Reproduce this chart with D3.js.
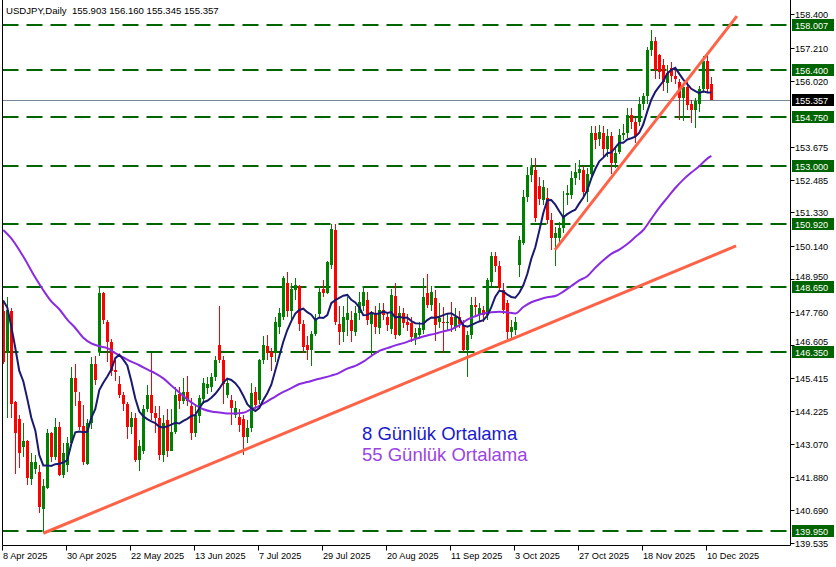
<!DOCTYPE html>
<html><head><meta charset="utf-8">
<script src="https://cdn.jsdelivr.net/npm/d3@7"></script>
<style>body{margin:0;background:#fff}svg{display:block}</style>
</head><body><svg id="c" width="836" height="567"></svg>
<script>
const symbolTitle = "USDJPY,Daily";
const dateLabels = ["8 Apr 2025","30 Apr 2025","22 May 2025","13 Jun 2025","7 Jul 2025","29 Jul 2025","20 Aug 2025","11 Sep 2025","3 Oct 2025","27 Oct 2025","18 Nov 2025","10 Dec 2025"];
const dateTickIndex = [0,16,32,48,64,80,96,112,128,144,160,176];
const priceTicks = [158.400,157.210,156.020,153.675,152.485,151.330,150.140,148.950,147.760,146.605,145.415,144.225,143.070,141.880,140.690,139.535];
const levels = [158.007,156.400,154.750,153.000,150.920,148.650,146.350,139.950];
const lastPrice = 155.357;

const open = [147.80,146.30,147.80,144.55,143.95,142.95,143.15,141.80,142.15,142.05,140.75,141.50,143.45,142.60,143.65,141.95,142.30,143.10,145.40,144.60,143.70,142.35,143.80,145.90,146.35,148.45,147.40,146.70,145.70,145.20,144.80,144.50,143.65,144.00,142.50,142.80,144.30,144.80,144.15,144.00,142.65,143.90,142.80,143.50,144.85,144.60,144.90,144.40,143.45,144.05,144.65,145.05,145.10,145.45,146.60,146.06,144.80,144.63,144.10,144.03,143.95,143.32,143.62,144.93,144.63,146.06,146.55,146.35,146.30,147.25,147.60,148.80,147.80,148.56,148.70,147.35,146.60,146.40,147.00,147.70,148.60,148.45,149.45,150.70,147.35,147.07,147.49,147.50,147.07,147.72,148.00,148.20,147.35,147.75,147.20,147.85,147.60,147.15,148.35,146.95,147.72,147.43,147.37,146.83,146.95,147.13,148.44,148.02,148.26,147.40,147.43,147.37,147.60,147.25,147.60,147.31,146.41,146.95,148.02,147.66,147.84,147.66,148.85,149.77,149.41,148.56,148.08,147.04,147.13,149.45,150.22,151.89,152.66,152.84,152.27,151.77,151.83,151.06,150.40,150.40,150.76,151.95,151.95,152.54,152.75,152.84,152.07,152.70,154.15,153.96,154.15,153.60,154.05,153.10,153.50,154.10,154.15,154.80,154.55,154.55,155.20,155.50,157.13,157.45,156.95,156.60,155.95,156.50,156.20,156.00,155.40,155.80,155.20,155.00,155.20,155.75,156.75,155.903];
const high = [148.20,148.30,147.90,144.60,144.10,143.80,143.20,142.75,142.65,142.30,141.80,143.60,143.50,144.00,143.85,143.10,143.30,145.80,145.90,144.90,144.45,143.95,146.15,146.20,148.65,148.50,147.50,146.80,146.05,145.50,144.90,144.55,144.20,144.15,143.20,144.45,145.15,146.30,144.40,144.40,144.10,144.30,144.30,145.10,145.10,145.40,145.50,144.70,144.50,144.80,145.40,145.45,145.60,146.20,148.00,146.20,145.40,144.80,144.60,144.30,144.10,143.90,145.22,145.10,146.10,146.90,146.95,146.50,147.60,147.90,149.05,149.20,148.80,149.00,148.75,147.50,146.90,147.10,147.70,148.70,148.90,149.60,150.90,150.90,148.00,148.00,148.30,147.80,148.00,148.50,148.70,148.50,147.80,148.00,148.10,148.10,147.75,148.60,148.80,148.00,147.90,147.70,147.60,147.20,147.40,148.97,149.13,148.70,148.56,148.10,147.96,147.70,148.14,147.90,147.80,147.50,147.10,148.32,148.30,148.10,148.00,149.00,149.93,149.93,149.60,148.80,148.20,147.50,147.60,150.50,152.13,152.96,153.26,153.26,152.60,152.50,152.20,151.30,150.80,151.00,152.10,152.30,152.80,153.08,153.20,153.00,152.90,154.40,154.40,154.45,154.40,154.30,154.20,153.70,154.30,154.50,155.05,155.05,154.70,155.45,155.60,157.25,157.84,157.60,157.00,156.80,156.60,156.70,156.40,156.10,155.90,156.00,155.35,155.40,155.85,156.90,156.95,156.160];
const low = [145.90,144.00,144.00,142.00,142.20,142.60,141.60,141.60,142.00,140.60,139.88,141.45,142.40,142.50,141.90,141.85,142.05,143.00,144.40,143.55,142.30,142.30,143.60,145.15,146.20,147.35,146.00,145.50,145.30,144.70,144.25,143.25,143.40,142.40,142.10,142.70,144.20,143.90,143.45,142.50,142.40,142.60,142.80,143.40,144.30,144.50,144.40,143.20,143.30,143.80,144.50,144.85,144.90,145.30,145.95,144.50,144.70,143.75,144.00,143.50,142.66,143.10,143.50,144.30,144.50,145.90,146.06,145.65,146.00,147.00,147.50,147.60,147.50,148.20,147.10,146.30,146.05,145.85,146.90,147.60,148.30,148.40,149.30,147.30,146.60,146.70,146.90,146.70,146.90,147.50,147.80,147.30,146.20,147.00,147.00,147.50,147.10,147.00,146.80,146.90,147.20,147.10,146.70,146.60,146.80,147.00,147.90,147.80,146.74,147.20,146.30,147.10,147.07,147.10,147.20,146.35,145.46,146.80,147.60,147.40,147.40,147.50,148.70,149.20,148.50,147.70,146.80,146.80,146.95,149.03,150.16,151.70,152.40,151.00,151.60,151.60,150.90,149.99,149.40,150.20,150.60,151.60,151.80,152.30,152.50,151.80,151.70,152.60,153.60,153.70,153.30,153.30,152.70,152.90,153.40,153.90,154.00,154.30,153.80,154.40,155.00,155.20,156.90,156.10,156.10,155.65,155.60,156.00,155.90,154.63,154.60,154.99,154.52,154.34,154.90,155.60,155.60,155.345];
const close = [146.00,147.85,144.50,143.45,142.75,143.15,141.85,142.40,142.40,140.80,141.55,143.45,142.60,143.65,141.95,142.75,143.10,145.40,144.90,143.65,142.40,143.80,145.90,145.35,148.45,147.50,146.70,145.65,145.63,144.80,144.50,143.65,144.00,142.50,143.00,144.30,144.80,144.15,144.00,142.65,143.80,142.80,143.50,144.80,144.60,144.90,144.60,143.45,144.10,144.70,145.25,145.20,145.45,146.05,146.06,145.20,145.22,144.33,144.35,143.74,143.32,143.62,144.87,144.45,146.06,146.59,146.30,146.18,147.40,147.72,148.97,147.80,148.60,148.74,147.35,146.53,146.40,147.00,147.50,148.50,148.45,149.55,150.75,147.40,147.07,147.60,147.72,147.10,147.72,148.14,148.50,147.50,147.70,147.25,147.85,147.65,147.30,148.38,146.95,147.75,147.37,147.31,146.89,147.01,147.19,148.32,148.02,148.50,147.31,147.55,147.37,147.43,147.31,147.60,147.35,146.41,146.95,148.02,147.94,147.90,147.66,148.91,149.77,149.41,148.62,147.84,147.04,147.22,147.43,150.34,151.89,152.66,152.96,151.12,151.80,152.25,151.06,150.40,150.60,150.76,151.24,152.01,152.54,152.78,152.87,152.07,152.70,154.15,153.90,154.20,153.60,154.05,153.10,153.45,154.10,154.15,154.80,154.55,154.05,155.20,155.50,157.13,157.45,156.40,156.35,156.00,156.30,156.20,156.10,155.40,155.80,155.15,155.00,155.30,155.75,156.75,155.75,155.357];
const priorCloses = [149.80,149.90,149.60,149.30,146.10,146.90,147.80];

const ma55Index = [0,2,5,8,10,12,14,16,18,20,22,24,26,28,30,32,34,36,38,40,42,44,46,48,50,52,54,56,58,60,62,64,66,68,70,72,74,76,78,80,82,84,86,88,90,92,94,96,98,100,102,104,106,108,110,112,114,116,118,120,122,124,126,128,130,132,134,136,138,140,142,144,146,148,150,152,154,156,158,160,162,164,166,168,170,172,174,176,177];
const ma55Values = [150.70,150.40,149.75,149.00,148.55,148.15,147.87,147.50,147.20,146.85,146.65,146.55,146.48,146.30,146.15,146.00,145.87,145.72,145.58,145.40,145.15,144.90,144.65,144.45,144.30,144.22,144.18,144.15,144.15,144.17,144.30,144.42,144.58,144.75,144.92,145.05,145.20,145.27,145.35,145.42,145.50,145.60,145.75,145.85,146.00,146.20,146.38,146.48,146.58,146.66,146.76,146.85,146.93,147.00,147.08,147.15,147.30,147.50,147.62,147.72,147.76,147.78,147.76,147.72,147.95,148.12,148.22,148.30,148.34,148.50,148.70,148.90,149.05,149.35,149.62,149.85,150.00,150.20,150.45,150.70,151.10,151.50,151.85,152.20,152.50,152.75,152.98,153.25,153.35];

const trendLong = [[10, 139.87],[183.2, 150.13]];
const trendShort = [[137.9, 149.99],[183.4, 158.34]];
const legendTexts = ["8 Günlük Ortalama","55 Günlük Ortalama"];

const svg = d3.select("#c");
const x = d3.scaleLinear().domain([0, 196]).range([3.3, 787.3]);
const y = d3.scaleLinear().domain([139.95, 158.4]).range([531, 14.4]);
const L = 2.5, R = 790.5, B = 545.5;
const font = "'Liberation Sans', Arial, sans-serif";

svg.append("rect").attr("width",836).attr("height",567).attr("fill","#fff");

const bars = close.map((c,i)=>({i,o:open[i],h:high[i],l:low[i],c}));

// horizontal levels
svg.append("g").selectAll("line").data(levels).join("line")
  .attr("x1",L).attr("x2",R).attr("y1",d=>Math.round(y(d))).attr("y2",d=>Math.round(y(d)))
  .attr("stroke","#006400").attr("stroke-width",2).attr("stroke-dasharray","16,8");
// last price line
svg.append("line").attr("x1",L).attr("x2",R).attr("y1",Math.round(y(lastPrice))+0.5).attr("y2",Math.round(y(lastPrice))+0.5)
  .attr("stroke","#778899").attr("stroke-width",1);

// candles
const cg = svg.append("g").attr("shape-rendering","crispEdges");
cg.selectAll("line").data(bars).join("line")
  .attr("x1",d=>Math.round(x(d.i))+0.5).attr("x2",d=>Math.round(x(d.i))+0.5)
  .attr("y1",d=>y(d.h)).attr("y2",d=>y(d.l))
  .attr("stroke",d=>d.c>=d.o?"#008000":"#ff0000").attr("stroke-width",1);
cg.selectAll("rect").data(bars).join("rect")
  .attr("x",d=>Math.round(x(d.i))-1).attr("width",3)
  .attr("y",d=>y(Math.max(d.o,d.c)))
  .attr("height",d=>Math.max(1,Math.abs(y(d.o)-y(d.c))))
  .attr("fill",d=>d.c>=d.o?"#008000":"#ff0000");

// moving averages
const allCloses = priorCloses.concat(close);
const ma8 = close.map((c,i)=>({i, v:d3.mean(allCloses.slice(i, i+8))}));
svg.append("path").datum(ma55Index.map((i,k)=>({i, v:ma55Values[k]})))
  .attr("d", d3.line().x(d=>x(d.i)).y(d=>y(d.v)).curve(d3.curveMonotoneX))
  .attr("fill","none").attr("stroke","#8a2be2").attr("stroke-width",2);
svg.append("path").datum(ma8)
  .attr("d", d3.line().x(d=>x(d.i)).y(d=>y(d.v))).attr("fill","none").attr("stroke","#191970").attr("stroke-width",2);

// trendlines
[trendLong, trendShort].forEach(t=>{
  svg.append("line").attr("x1",x(t[0][0])).attr("y1",y(t[0][1])).attr("x2",x(t[1][0])).attr("y2",y(t[1][1]))
    .attr("stroke","#ff6347").attr("stroke-width",3);
});

// frame
svg.append("line").attr("x1",L).attr("x2",L).attr("y1",0).attr("y2",B).attr("stroke","#000");
svg.append("line").attr("x1",L).attr("x2",R).attr("y1",B).attr("y2",B).attr("stroke","#000");
svg.append("line").attr("x1",R).attr("x2",R).attr("y1",0).attr("y2",B).attr("stroke","#000");

// price axis ticks
const pa = svg.append("g");
const boxTop = p => Math.round(y(p)) - 6;
priceTicks.forEach(p=>{
  const yy = Math.round(y(p))+0.5;
  pa.append("line").attr("x1",R).attr("x2",R+4).attr("y1",yy).attr("y2",yy).attr("stroke","#000");
  let ty = yy + 3.5;
  levels.forEach(lv=>{ const bt = boxTop(lv); if (ty > bt - 1 && ty - 8 < bt + 12) ty = Math.min(ty, bt - 1.5); });
  pa.append("text").attr("x",795).attr("y",ty).text(p.toFixed(3))
    .attr("font-family",font).attr("font-size",9.2).attr("fill","#000");
});
// level boxes
levels.concat([lastPrice]).forEach(p=>{
  const isLast = p===lastPrice;
  pa.append("rect").attr("x",792).attr("y",boxTop(p)).attr("width",42).attr("height",12)
    .attr("fill", isLast?"#000":"#006400");
  pa.append("text").attr("x",795).attr("y",Math.round(y(p))+3.5).text(p.toFixed(3))
    .attr("font-family",font).attr("font-size",9.2).attr("fill","#fff");
});

// date axis
const da = svg.append("g");
dateTickIndex.forEach((i,k)=>{
  const xx = Math.round(x(i))-0.5;
  da.append("line").attr("x1",xx).attr("x2",xx).attr("y1",B).attr("y2",B+5).attr("stroke","#000");
  da.append("text").attr("x",xx+0.5).attr("y",559).text(dateLabels[k])
    .attr("font-family",font).attr("font-size",9.2).attr("fill","#000");
});

// title
svg.append("text").attr("x",6).attr("y",14).attr("font-family",font).attr("font-size",9.6).attr("fill","#000")
  .attr("xml:space","preserve")
  .text(symbolTitle + "  " + [open[177],high[177],low[177],close[177]].map(v=>v.toFixed(3)).join(" "));

// legend
svg.append("text").attr("x",362).attr("y",439.5).text(legendTexts[0])
  .attr("font-family",font).attr("font-size",18.5).attr("fill","#1a1acd");
svg.append("text").attr("x",362).attr("y",460.5).text(legendTexts[1])
  .attr("font-family",font).attr("font-size",18.5).attr("fill","#9b44e6");
</script></body></html>
